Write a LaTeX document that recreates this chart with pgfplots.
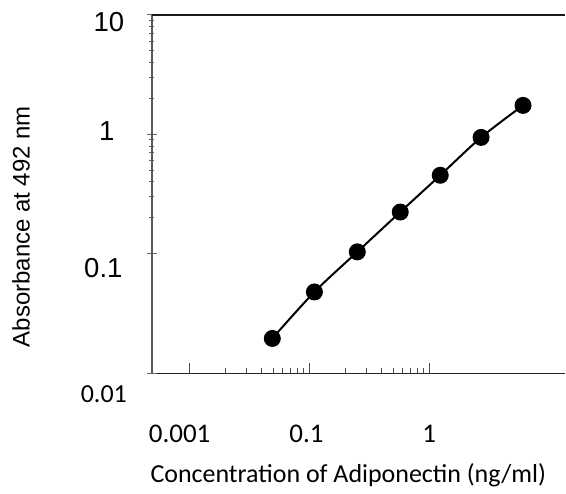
\documentclass[border=0pt]{standalone}
\usepackage{pgfplots}
\pgfplotsset{compat=1.18}
\usepackage{fontspec}
\setmainfont{Liberation Sans}
\newfontfamily\calibri{Carlito}

\begin{document}
\begin{tikzpicture}
\begin{axis}[
    scale only axis,
    width=207pt, height=179.5pt,
    xmode=log, ymode=log,
    xmin=0.004824, xmax=13.6,
    ymin=0.01, ymax=10,
    axis x line*=bottom, axis y line*=left,
    x axis line style={black!85, line width=0.8pt},
    y axis line style={black!65, line width=0.9pt},
    xtick={0.01,0.1,1},
    xticklabels={\hspace*{-10pt}0.001,\hspace*{-3pt}0.1,1},
    xticklabel style={anchor=center, yshift=-30.5pt, font=\calibri\fontsize{13.5}{15}\selectfont},
    ytick={0.1,1,10},
    yticklabels={\hspace*{-5.5pt}\raisebox{-11.65pt}[0pt][0pt]{0.1},
                 \hspace*{-2pt}\raisebox{-3.15pt}[0pt][0pt]{1},
                 \raisebox{-8.4pt}[0pt][0pt]{10}},
    yticklabel style={anchor=center, xshift=-19pt, font=\fontsize{13.75}{15}\selectfont},
    extra y ticks={0.01},
    extra y tick labels={\raisebox{-14.6pt}[0pt][0pt]{0.01}},
    extra y tick style={yticklabel style={xshift=-2.5pt, font=\calibri\fontsize{13}{15}\selectfont}},
    x tick style={black!70, line width=0.5pt},
    y tick style={black!60, line width=0.5pt},
    xtick align=inside, ytick align=center,
    major tick length=5pt, minor tick length=2.5pt,
    xlabel={Concentration of Adiponectin (ng/ml)},
    xlabel style={at={(axis description cs:0.4758,-0.284)}, anchor=center,
                  font=\calibri\fontsize{13}{15}\selectfont},
    ylabel={Absorbance at 492 nm},
    ylabel style={at={(axis description cs:-0.3164,0.4095)}, anchor=center,
                  font=\fontsize{12}{14}\selectfont},
    clip=false,
]
\addplot[black, line width=1pt, smooth, mark=*, mark size=3.75pt,
         mark options={fill=black}]
  coordinates {
    (0.049,0.0196) (0.110,0.048) (0.251,0.104) (0.573,0.224)
    (1.236,0.455) (2.71,0.944) (6.07,1.75)
  };
\draw[black!90, line width=1pt] (rel axis cs:0,1) -- (rel axis cs:1,1);
\end{axis}
\path[use as bounding box] (-76pt,-59.5pt) rectangle (207pt,187pt);
\end{tikzpicture}
\end{document}
